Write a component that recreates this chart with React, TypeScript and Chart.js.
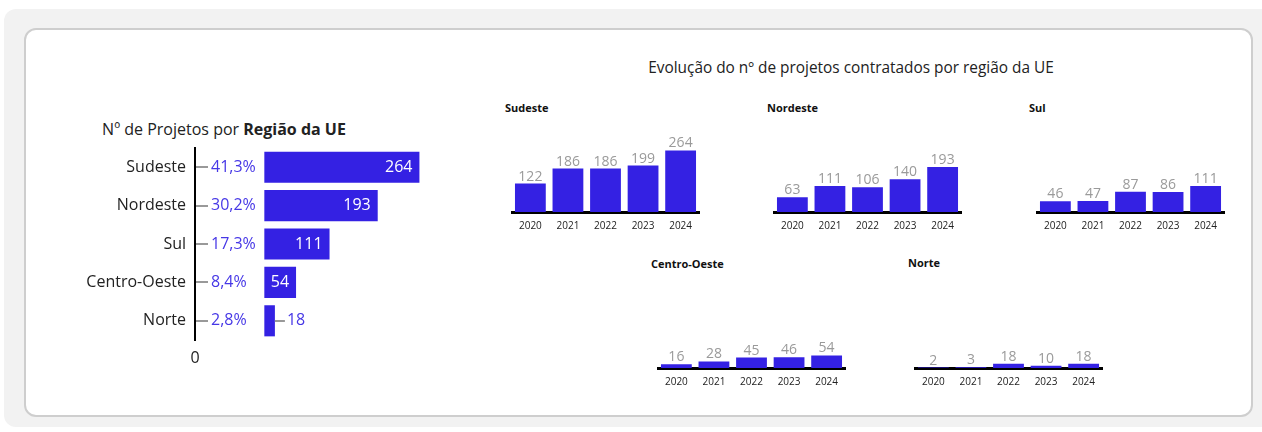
import React, { useEffect, useRef } from "react";
import { Chart, registerables } from "chart.js";

Chart.register(...registerables);

// ---------- data ----------
const regions = ["Sudeste", "Nordeste", "Sul", "Centro-Oeste", "Norte"];
const totals = [264, 193, 111, 54, 18];
const shares = ["41,3%", "30,2%", "17,3%", "8,4%", "2,8%"];
const years = ["2020", "2021", "2022", "2023", "2024"];
const sudeste = [122, 186, 186, 199, 264];
const nordeste = [63, 111, 106, 140, 193];
const sul = [46, 47, 87, 86, 111];
const centroOeste = [16, 28, 45, 46, 54];
const norte = [2, 3, 18, 10, 18];

const leftTitleNormal = "Nº de Projetos por ";
const leftTitleBold = "Região da UE";
const rightTitle = "Evolução do nº de projetos contratados por região da UE";

// ---------- style ----------
const FONT = "'Open Sans', 'Noto Sans', sans-serif";
const BLUE = "#3421e3";
const PCT_BLUE = "#4637e6";
const GRAY_LABEL = "#9a9a9a";
const TEXT = "#222222";
const OFFSET = 118; // gap (in axis units) between axis line and bar start

function LeftChart() {
  const ref = useRef<HTMLCanvasElement | null>(null);
  useEffect(() => {
    if (!ref.current) return;
    const labelsPlugin = {
      id: "leftLabels",
      afterDatasetsDraw(chart: any) {
        const { ctx, chartArea } = chart;
        const meta = chart.getDatasetMeta(0);
        ctx.save();
        meta.data.forEach((bar: any, i: number) => {
          const { x, y, base } = bar.getProps(["x", "y", "base"], true);
          ctx.strokeStyle = "#999999";
          ctx.lineWidth = 2;
          ctx.beginPath();
          ctx.moveTo(chartArea.left + 1, Math.round(y));
          ctx.lineTo(chartArea.left + 13, Math.round(y));
          ctx.stroke();
          ctx.font = `16px ${FONT}`;
          ctx.textBaseline = "middle";
          ctx.textAlign = "left";
          ctx.fillStyle = PCT_BLUE;
          ctx.fillText(shares[i], chartArea.left + 16, y);
          const w = x - base;
          if (w > 25) {
            ctx.fillStyle = "#ffffff";
            ctx.textAlign = "right";
            ctx.fillText(String(totals[i]), x - 7, y);
          } else {
            ctx.strokeStyle = "#999999";
            ctx.beginPath();
            ctx.moveTo(x, Math.round(y));
            ctx.lineTo(x + 10, Math.round(y));
            ctx.stroke();
            ctx.fillStyle = PCT_BLUE;
            ctx.textAlign = "left";
            ctx.fillText(String(totals[i]), x + 12, y);
          }
        });
        ctx.restore();
      },
    };
    const chart = new Chart(ref.current, {
      type: "bar",
      data: {
        labels: regions,
        datasets: [
          {
            data: totals.map((v) => [OFFSET, OFFSET + v]) as any,
            backgroundColor: BLUE,
            borderWidth: 0,
            barPercentage: 0.81,
            categoryPercentage: 1,
          },
        ],
      },
      options: {
        indexAxis: "y",
        responsive: false,
        animation: false,
        layout: { padding: { top: 10, right: 0, bottom: 0, left: 0 } },
        plugins: { legend: { display: false }, tooltip: { enabled: false }, title: { display: false } },
        scales: {
          x: {
            min: 0,
            max: 400,
            grid: { display: false, drawTicks: false },
            border: { display: false },
            afterBuildTicks: (s: any) => {
              s.ticks = [{ value: 0 }];
            },
            afterFit: (s: any) => {
              s.height = 30;
              s.paddingLeft = 0;
              s.paddingRight = 0;
            },
            ticks: { padding: 9, font: { family: FONT, size: 16 }, color: TEXT },
          },
          y: {
            grid: { display: false, drawTicks: false },
            border: { display: true, color: "#000000", width: 2 },
            afterFit: (s: any) => {
              s.width = 115;
              s.paddingTop = 0;
              s.paddingBottom = 0;
            },
            ticks: { padding: 9, font: { family: FONT, size: 16 }, color: TEXT },
          },
        },
      },
      plugins: [labelsPlugin],
    });
    return () => chart.destroy();
  }, []);
  return (
    <canvas
      ref={ref}
      width={350}
      height={232}
      style={{ position: "absolute", left: 80, top: 138, width: 350, height: 232 }}
    />
  );
}

function SmallChart(props: { values: number[]; left: number; axisY: number }) {
  const ref = useRef<HTMLCanvasElement | null>(null);
  const { values, left, axisY } = props;
  useEffect(() => {
    if (!ref.current) return;
    const valuePlugin = {
      id: "smallValues",
      afterDatasetsDraw(chart: any) {
        const { ctx } = chart;
        const meta = chart.getDatasetMeta(0);
        ctx.save();
        ctx.font = `14px ${FONT}`;
        ctx.fillStyle = GRAY_LABEL;
        ctx.textAlign = "center";
        ctx.textBaseline = "alphabetic";
        meta.data.forEach((bar: any, i: number) => {
          const { x, y } = bar.getProps(["x", "y"], true);
          ctx.fillText(String(values[i]), x, y - 3);
        });
        ctx.restore();
      },
    };
    const chart = new Chart(ref.current, {
      type: "bar",
      data: {
        labels: years,
        datasets: [
          {
            data: values,
            backgroundColor: BLUE,
            borderWidth: 0,
            barPercentage: 0.82,
            categoryPercentage: 1,
          },
        ],
      },
      options: {
        responsive: false,
        animation: false,
        layout: { padding: { top: 22, right: 0, bottom: 0, left: 0 } },
        plugins: { legend: { display: false }, tooltip: { enabled: false } },
        scales: {
          x: {
            grid: { display: false, drawTicks: false },
            border: { display: true, color: "#000000", width: 3 },
            afterFit: (s: any) => {
              s.height = 30;
            },
            ticks: { padding: 8, font: { family: FONT, size: 10 }, color: TEXT },
          },
          y: { display: false, min: 0, max: 300 },
        },
      },
      plugins: [valuePlugin],
    });
    return () => chart.destroy();
  }, [values]);
  return (
    <canvas
      ref={ref}
      width={189}
      height={122}
      style={{ position: "absolute", left, top: axisY - 92, width: 189, height: 122 }}
    />
  );
}

function SmallTitle(props: { text: string; left: number; top: number }) {
  return (
    <div
      style={{
        position: "absolute",
        left: props.left,
        top: props.top,
        font: `bold 11px ${FONT}`,
        lineHeight: "11px",
        color: "#111",
        whiteSpace: "nowrap",
      }}
    >
      {props.text}
    </div>
  );
}

export default function App() {
  return (
    <div
      style={{
        position: "absolute",
        left: 0,
        top: 0,
        width: 1262,
        height: 432,
        overflow: "hidden",
        background: "#ffffff",
        fontFamily: FONT,
      }}
    >
      <div
        style={{
          position: "absolute",
          left: 4,
          top: 9,
          width: 1300,
          height: 418,
          borderRadius: 12,
          background: "#f2f2f2",
        }}
      />
      <div
        style={{
          position: "absolute",
          left: 24,
          top: 28,
          width: 1229,
          height: 389,
          boxSizing: "border-box",
          border: "2px solid #cecece",
          borderRadius: 12,
          background: "#ffffff",
        }}
      />
      <div
        style={{
          position: "absolute",
          left: 24,
          top: 121,
          width: 400,
          textAlign: "center",
          font: `16px ${FONT}`,
          lineHeight: "16px",
          color: TEXT,
          whiteSpace: "nowrap",
        }}
      >
        {leftTitleNormal}
        <b>{leftTitleBold}</b>
      </div>
      <div
        style={{
          position: "absolute",
          left: 551,
          top: 60,
          width: 600,
          textAlign: "center",
          font: `15.4px ${FONT}`,
          lineHeight: "16px",
          color: TEXT,
          whiteSpace: "nowrap",
        }}
      >
        {rightTitle}
      </div>
      <LeftChart />
      <SmallTitle text={regions[0]} left={505} top={102} />
      <SmallChart values={sudeste} left={511} axisY={212} />
      <SmallTitle text={regions[1]} left={767} top={102} />
      <SmallChart values={nordeste} left={773} axisY={212} />
      <SmallTitle text={regions[2]} left={1029} top={102} />
      <SmallChart values={sul} left={1036} axisY={212} />
      <SmallTitle text={regions[3]} left={651} top={258} />
      <SmallChart values={centroOeste} left={657} axisY={368} />
      <SmallTitle text={regions[4]} left={908} top={257} />
      <SmallChart values={norte} left={914} axisY={368} />
    </div>
  );
}
